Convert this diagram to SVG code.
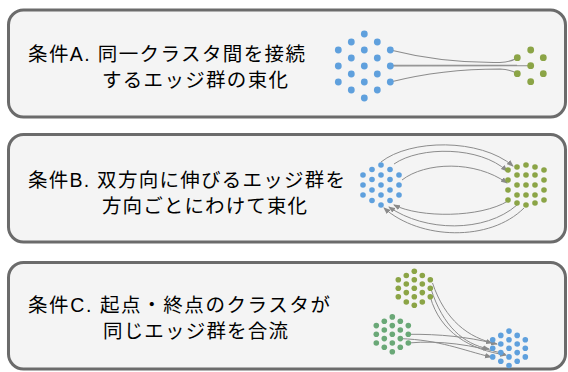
<svg xmlns="http://www.w3.org/2000/svg" width="568" height="372" viewBox="0 0 568 372">
<style>
.panel{fill:#f4f4f4;stroke:#6b6b6b;stroke-width:3}
.t{font-family:"Liberation Sans","Noto Sans CJK JP",sans-serif;font-size:19.5px;fill:#000}
.b{fill:#5fa0dd}
.o{fill:#8ba446}
.g{fill:#6aa877}
.e{fill:none;stroke:#8c8c8c;stroke-width:1.1}
.ea{fill:none;stroke:#8c8c8c;stroke-width:1;marker-end:url(#arr)}
</style>
<defs>
<marker id="arr" markerWidth="7" markerHeight="6" refX="6" refY="3" orient="auto" markerUnits="userSpaceOnUse"><path d="M0,0.3 L7,3 L0,5.7 z" fill="#8a8a8a"/></marker>
</defs>
<rect width="568" height="372" fill="#ffffff"/>
<g id="panelA">
<rect class="panel" x="8.5" y="10" width="557" height="107" rx="15"/>
<text class="t" x="28" y="61" textLength="277" lengthAdjust="spacing">条件A. 同一クラスタ間を接続</text>
<text class="t" x="102" y="87" textLength="186" lengthAdjust="spacing">するエッジ群の束化</text>
</g>
<g id="panelB">
<rect class="panel" x="8.5" y="134.5" width="557" height="107.5" rx="15"/>
<text class="t" x="28" y="187" textLength="317" lengthAdjust="spacing">条件B. 双方向に伸びるエッジ群を</text>
<text class="t" x="102" y="213" textLength="205" lengthAdjust="spacing">方向ごとにわけて束化</text>
</g>
<g id="panelC">
<rect class="panel" x="8.5" y="262.5" width="557" height="106.5" rx="15"/>
<text class="t" x="28" y="312" textLength="302" lengthAdjust="spacing">条件C. 起点・終点のクラスタが</text>
<text class="t" x="103" y="338" textLength="185" lengthAdjust="spacing">同じエッジ群を合流</text>
</g>
<g id="connectors">
<path class="e" d="M390.3,50 C430,60 465,63 500,62.5 C510,62 514,60 517.3,57.7"/>
<path class="e" d="M390.3,82 C430,72 465,69 500,69 C510,69.5 514,71.5 517.3,73.7"/>
<path class="e" d="M390.3,66 L530.7,65.7" stroke-width="1.6" stroke="#a8a8a8"/>
<path class="e" d="M390.3,65.3 L517,65.3"/>
<path class="ea" d="M381,162 C410,139 480,138 513,166"/>
<path class="ea" d="M394,164 C420,146 480,146 507,171"/>
<path class="ea" d="M402,180 C425,162 475,160 507,183"/>
<path class="ea" d="M508,201 C480,218 420,218 394,205"/>
<path class="ea" d="M524,208 C490,242 420,240 384,208"/>
<path class="ea" d="M517,205 C485,233 425,232 389,207"/>
<path class="ea" d="M432.5,283 C445,320 468,338 497,344"/>
<path class="ea" d="M431,289 C443,326 463,344 489,349"/>
<path class="ea" d="M430.3,297 C440,332 470,350 506,355"/>
<path class="ea" d="M408.3,334.3 C440,334 468,337 492,343"/>
<path class="ea" d="M408.3,343 C440,340 472,345 505,354"/>
<path class="ea" d="M400.3,338.6 C440,340 462,350 491,357"/>
</g>
<g id="clusterA-blue" class="b">
<circle cx="338.3" cy="50" r="3.4"/><circle cx="338.3" cy="66" r="3.4"/><circle cx="338.3" cy="82" r="3.4"/>
<circle cx="351.3" cy="42" r="3.4"/><circle cx="351.3" cy="58" r="3.4"/><circle cx="351.3" cy="74" r="3.4"/><circle cx="351.3" cy="90" r="3.4"/>
<circle cx="364.3" cy="34" r="3.4"/><circle cx="364.3" cy="50" r="3.4"/><circle cx="364.3" cy="66" r="3.4"/><circle cx="364.3" cy="82" r="3.4"/><circle cx="364.3" cy="98" r="3.4"/>
<circle cx="377.3" cy="42" r="3.4"/><circle cx="377.3" cy="58" r="3.4"/><circle cx="377.3" cy="74" r="3.4"/><circle cx="377.3" cy="90" r="3.4"/>
<circle cx="390.3" cy="50" r="3.4"/><circle cx="390.3" cy="66" r="3.4"/><circle cx="390.3" cy="82" r="3.4"/>
</g>
<g id="clusterA-green" class="o">
<circle cx="530.7" cy="50" r="3.4"/><circle cx="517.3" cy="57.7" r="3.4"/><circle cx="543.3" cy="57.7" r="3.4"/>
<circle cx="530.7" cy="65.7" r="3.4"/><circle cx="517.3" cy="73.7" r="3.4"/><circle cx="543.3" cy="73.7" r="3.4"/><circle cx="530.7" cy="81.7" r="3.4"/>
</g>
<g id="clusterB-blue" class="b">
<circle cx="363" cy="175" r="2.8"/><circle cx="363" cy="185" r="2.8"/><circle cx="363" cy="195" r="2.8"/>
<circle cx="372" cy="169.5" r="2.8"/><circle cx="372" cy="179.5" r="2.8"/><circle cx="372" cy="190" r="2.8"/><circle cx="372" cy="200.5" r="2.8"/>
<circle cx="381" cy="165" r="2.8"/><circle cx="381" cy="175" r="2.8"/><circle cx="381" cy="185" r="2.8"/><circle cx="381" cy="195" r="2.8"/><circle cx="381" cy="205" r="2.8"/>
<circle cx="390" cy="169.5" r="2.8"/><circle cx="390" cy="179.5" r="2.8"/><circle cx="390" cy="190" r="2.8"/><circle cx="390" cy="200.5" r="2.8"/>
<circle cx="399" cy="175" r="2.8"/><circle cx="399" cy="185" r="2.8"/><circle cx="399" cy="195" r="2.8"/>
</g>
<g id="clusterB-green" class="o">
<circle cx="508" cy="170" r="2.8"/><circle cx="508" cy="180" r="2.8"/><circle cx="508" cy="190" r="2.8"/><circle cx="508" cy="200" r="2.8"/>
<circle cx="517" cy="167" r="2.8"/><circle cx="517" cy="175" r="2.8"/><circle cx="517" cy="185" r="2.8"/><circle cx="517" cy="195" r="2.8"/><circle cx="517" cy="203" r="2.8"/>
<circle cx="526" cy="165" r="2.8"/><circle cx="526" cy="175" r="2.8"/><circle cx="526" cy="185" r="2.8"/><circle cx="526" cy="195" r="2.8"/><circle cx="526" cy="205" r="2.8"/>
<circle cx="535" cy="167" r="2.8"/><circle cx="535" cy="175" r="2.8"/><circle cx="535" cy="185" r="2.8"/><circle cx="535" cy="195" r="2.8"/><circle cx="535" cy="203" r="2.8"/>
<circle cx="544" cy="170" r="2.8"/><circle cx="544" cy="180" r="2.8"/><circle cx="544" cy="190" r="2.8"/><circle cx="544" cy="200" r="2.8"/>
</g>
<g id="clusterC-olive" class="o">
<circle cx="398.3" cy="279.8" r="2.8"/><circle cx="398.3" cy="288.3" r="2.8"/><circle cx="398.3" cy="296.8" r="2.8"/>
<circle cx="406.3" cy="275.5" r="2.8"/><circle cx="406.3" cy="284" r="2.8"/><circle cx="406.3" cy="292.6" r="2.8"/><circle cx="406.3" cy="302" r="2.8"/>
<circle cx="414.3" cy="271.3" r="2.8"/><circle cx="414.3" cy="279.8" r="2.8"/><circle cx="414.3" cy="288.3" r="2.8"/><circle cx="414.3" cy="296.8" r="2.8"/><circle cx="414.3" cy="305.3" r="2.8"/>
<circle cx="422.3" cy="275.5" r="2.8"/><circle cx="422.3" cy="284" r="2.8"/><circle cx="422.3" cy="292.6" r="2.8"/><circle cx="422.3" cy="302" r="2.8"/>
<circle cx="430.3" cy="279.8" r="2.8"/><circle cx="430.3" cy="288.3" r="2.8"/><circle cx="430.3" cy="296.8" r="2.8"/>
</g>
<g id="clusterC-green" class="g">
<circle cx="376.3" cy="325.6" r="2.8"/><circle cx="376.3" cy="334.3" r="2.8"/><circle cx="376.3" cy="343" r="2.8"/>
<circle cx="384.3" cy="321.3" r="2.8"/><circle cx="384.3" cy="330" r="2.8"/><circle cx="384.3" cy="338.6" r="2.8"/><circle cx="384.3" cy="347.3" r="2.8"/>
<circle cx="392.3" cy="316.9" r="2.8"/><circle cx="392.3" cy="325.6" r="2.8"/><circle cx="392.3" cy="334.3" r="2.8"/><circle cx="392.3" cy="343" r="2.8"/><circle cx="392.3" cy="351.7" r="2.8"/>
<circle cx="400.3" cy="321.3" r="2.8"/><circle cx="400.3" cy="330" r="2.8"/><circle cx="400.3" cy="338.6" r="2.8"/><circle cx="400.3" cy="347.3" r="2.8"/>
<circle cx="408.3" cy="325.6" r="2.8"/><circle cx="408.3" cy="334.3" r="2.8"/><circle cx="408.3" cy="343" r="2.8"/>
</g>
<g id="clusterC-blue" class="b">
<circle cx="492.7" cy="339.7" r="2.8"/><circle cx="492.7" cy="348.3" r="2.8"/><circle cx="492.7" cy="356.9" r="2.8"/>
<circle cx="500.8" cy="335.4" r="2.8"/><circle cx="500.8" cy="344" r="2.8"/><circle cx="500.8" cy="352.6" r="2.8"/><circle cx="500.8" cy="361.2" r="2.8"/>
<circle cx="509" cy="331.1" r="2.8"/><circle cx="509" cy="339.7" r="2.8"/><circle cx="509" cy="348.3" r="2.8"/><circle cx="509" cy="356.9" r="2.8"/><circle cx="509" cy="365.5" r="2.8"/>
<circle cx="517.2" cy="335.4" r="2.8"/><circle cx="517.2" cy="344" r="2.8"/><circle cx="517.2" cy="352.6" r="2.8"/><circle cx="517.2" cy="361.2" r="2.8"/>
<circle cx="525.3" cy="339.7" r="2.8"/><circle cx="525.3" cy="348.3" r="2.8"/><circle cx="525.3" cy="356.9" r="2.8"/>
</g>
</svg>
